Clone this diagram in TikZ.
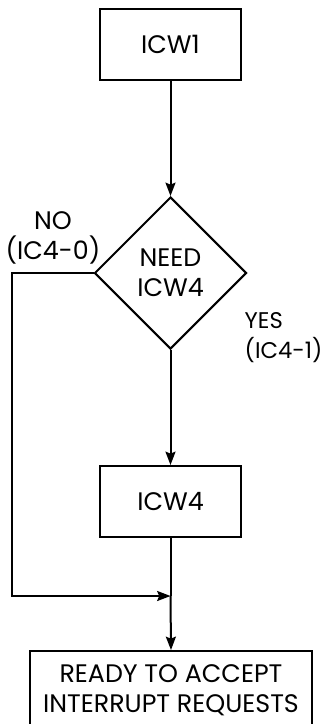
\documentclass[tikz,border=0pt]{standalone}
\usepackage{fontspec}
\setmainfont{Poppins}
\usepackage{tikz}
\usetikzlibrary{shapes.geometric, arrows.meta}
\tikzstyle{arrow} = [line width=1.5pt,-{Stealth[length=10pt,width=7.5pt,inset=1.5pt]}]
\tikzstyle{line} = [line width=1.5pt]
\tikzstyle{box} = [rectangle,draw,line width=1.5pt,minimum width=105.75pt,minimum height=53.25pt,inner sep=0pt]
\tikzstyle{decision} = [diamond,draw,line width=1.5pt,minimum size=114pt,inner sep=0pt,align=center]

\begin{document}
\begin{tikzpicture}[x=0.75pt,y=-0.75pt,every node/.style={font=\fontsize{19}{22.5}\selectfont}]

\useasboundingbox (0,0) rectangle (322,724);
\clip (0,0) rectangle (322,724);

% --- boxes ---
\node[box] (icw1) at (170.5,44.5) {ICW1};
\node[decision] (need) at (170.5,273) {\raisebox{-3pt}{\parbox{60pt}{\centering NEED\\ICW4}}};
\node[box] (icw4) at (170.5,501.5) {ICW4};
\node[box,minimum width=211.5pt,minimum height=59.25pt,align=center] (ready) at (171,690.5)
  {READY TO ACCEPT\\INTERRUPT REQUESTS};

% --- labels ---
\node[align=center] (no) at (53,238) {NO\\(IC4-0)};
\node[align=left,anchor=west,font=\fontsize{17}{22.5}\selectfont] (yes) at (240,338) {YES\\(IC4-1)};

% --- connections ---
\coordinate (j) at (170.5,596);
\coordinate (k) at (12,273);
\draw[arrow] (icw1) -- (need);
\draw[arrow] (need) -- (icw4);
\draw[arrow] (need.west) -- (k) |- (j);
\draw[line] (icw4.south) -- (j);
\draw[arrow] (j) -- (ready.north);

\end{tikzpicture}
\end{document}
